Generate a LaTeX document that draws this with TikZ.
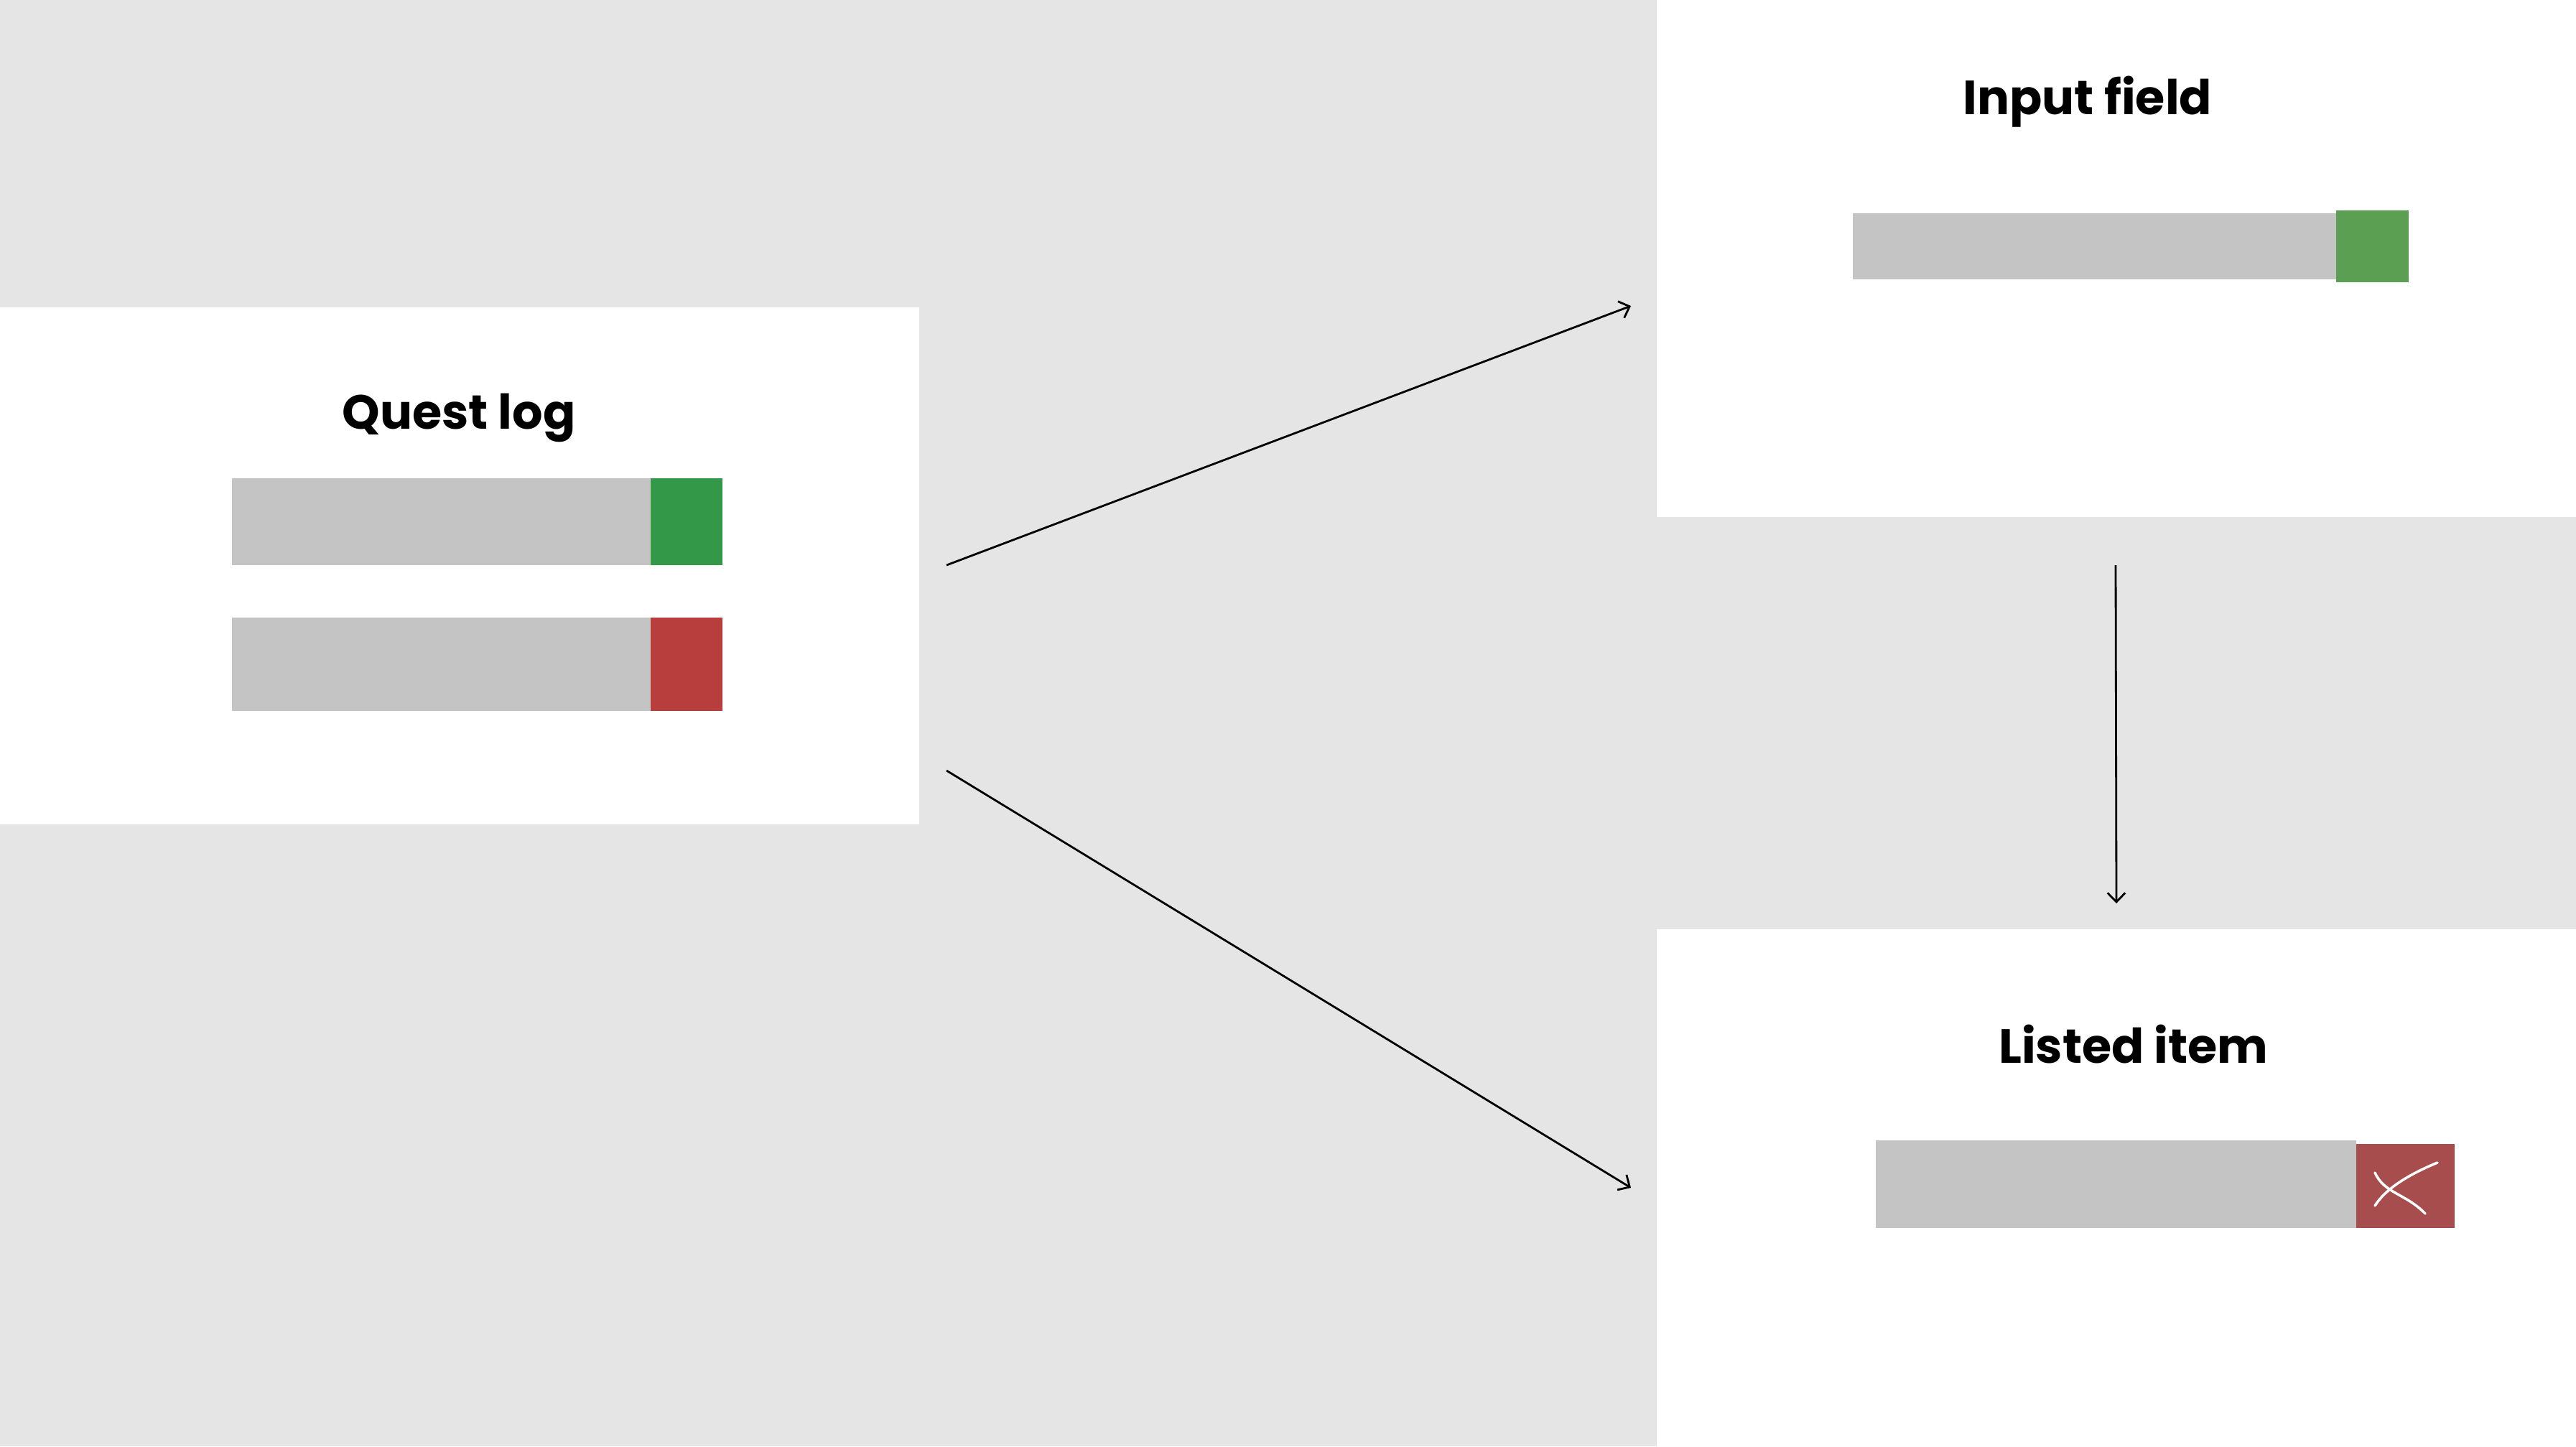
\documentclass[tikz,border=0pt]{standalone}
\usepackage{xcolor}
\usepackage{fontspec}
\usepackage{tikz}
\usetikzlibrary{
	arrows.meta
}
\setmainfont{Poppins}[BoldFont=* Bold]

\definecolor{c_backdrop}{HTML}{E5E5E5}
\definecolor{c_slot}{HTML}{C4C4C4}
\definecolor{c_okay}{HTML}{339949}
\definecolor{c_cancel}{HTML}{B83E3E}
\definecolor{c_okaysoft}{HTML}{5BA052}
\definecolor{c_cancelsoft}{HTML}{A84D4D}

\begin{document}
\begin{tikzpicture}[
	c_panel/.style={
		fill=white,
		draw=none
	},
	c_slotbar/.style={
		fill=c_slot,
		draw=none
	},
	c_title/.style={
		black,
		inner sep=0pt,
		anchor=base,
		font=\fontsize{19}{23}\selectfont\bfseries
	},
	c_flow/.style={
		black,
		line width=0.8pt,
		-{Straight Barb[length=3.6pt,width=7pt]}
	},
	c_cross/.style={
		white,
		line width=1pt,
		line cap=round
	}
	]
			
			% =========================================================================
			% BACKDROP AND PANELS
			% =========================================================================
			
			\fill[c_backdrop] (0,0) rectangle (35.87,-20.14);
			\useasboundingbox (0,0) rectangle (35.87,-20.14);
			
			\fill[c_panel] (0,-4.28) rectangle (12.80,-11.48);
			\fill[c_panel] (23.07,0) rectangle (35.87,-7.20);
			\fill[c_panel] (23.07,-12.94) rectangle (35.87,-20.14);
			
			% =========================================================================
			% QUEST LOG
			% =========================================================================
			
			\node[c_title] (questtitle) at (6.39,-5.97) {Quest log};
			
			\fill[c_slotbar] (3.23,-6.66) rectangle (9.06,-7.87);
			\fill[c_okay] (9.06,-6.66) rectangle (10.06,-7.87);
			
			\fill[c_slotbar] (3.23,-8.60) rectangle (9.06,-9.90);
			\fill[c_cancel] (9.06,-8.60) rectangle (10.06,-9.90);
			
			% =========================================================================
			% INPUT FIELD
			% =========================================================================
			
			\node[c_title] (inputtitle) at (29.07,-1.59) {Input field};
			
			\fill[c_slotbar] (25.80,-2.97) rectangle (32.53,-3.89);
			\fill[c_okaysoft] (32.53,-2.93) rectangle (33.54,-3.93);
			
			% =========================================================================
			% LISTED ITEM
			% =========================================================================
			
			\node[c_title] (listedtitle) at (29.71,-14.80) {Listed item};
			
			\fill[c_slotbar] (26.12,-15.88) rectangle (32.81,-17.10);
			\fill[c_cancelsoft] (32.81,-15.93) rectangle (34.18,-17.10);
			
			% Cross
			\draw[c_cross]
			(33.07,-16.79) .. controls (33.22,-16.55) and (33.55,-16.35) .. (33.94,-16.19);
			
			\draw[c_cross]
			(33.07,-16.33) .. controls (33.20,-16.62) and (33.50,-16.62) .. (33.77,-16.90);
			
			% =========================================================================
			% CONNECTORS
			% =========================================================================
			
			\coordinate (questupper) at (13.18,-7.87);
			\coordinate (questlower) at (13.18,-10.73);
			\coordinate (inputin) at (22.71,-4.26);
			\coordinate (inputout) at (29.46,-7.87);
			\coordinate (listedtop) at (29.47,-12.58);
			\coordinate (listedin) at (22.71,-16.54);
			
			\draw[c_flow] (questupper)--(inputin);
			\draw[c_flow] (questlower)--(listedin);
			\draw[c_flow] (inputout)--(listedtop);
			
\end{tikzpicture}
\end{document}
